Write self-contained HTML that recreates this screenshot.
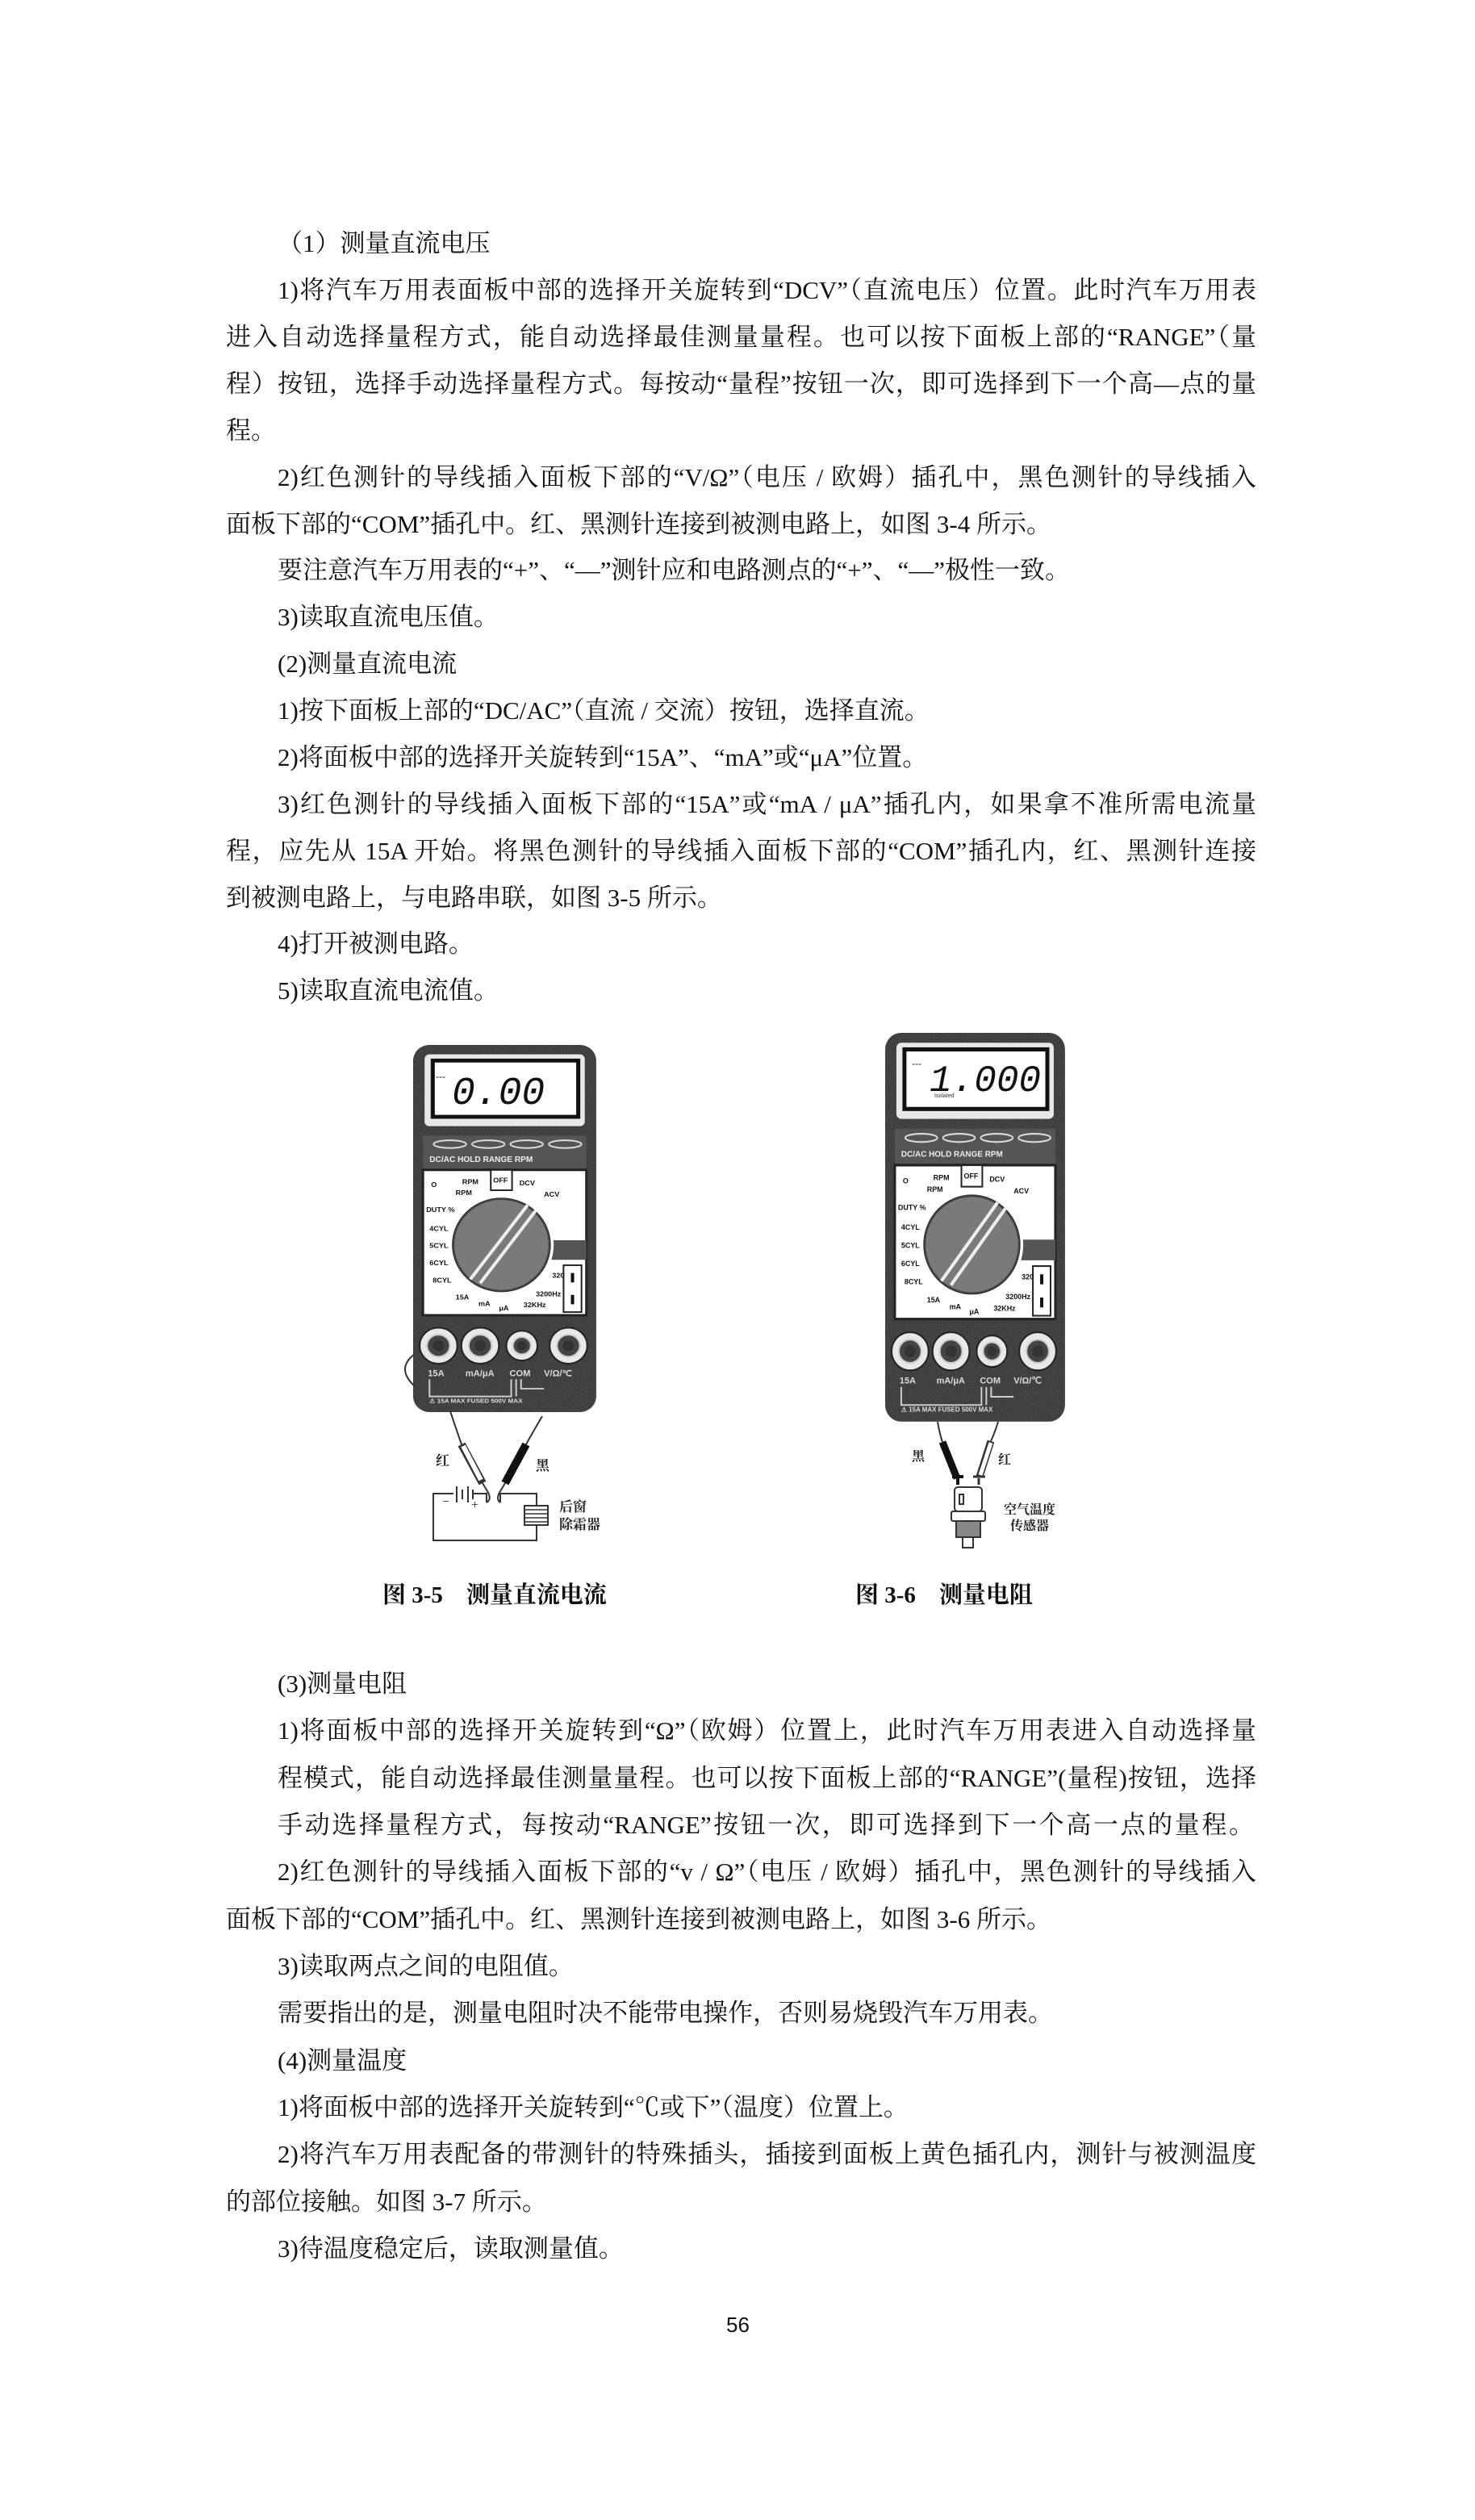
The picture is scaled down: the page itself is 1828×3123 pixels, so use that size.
<!DOCTYPE html>
<html><head><meta charset="utf-8"><style>
html,body{margin:0;padding:0;background:#fff;}
body{width:1828px;height:3123px;position:relative;overflow:hidden;font-family:"Liberation Serif","Noto Serif CJK SC",serif;color:#111;}
.l{position:absolute;font-size:31px;line-height:40px;white-space:nowrap;}
.f{text-align:justify;text-align-last:justify;white-space:normal;height:40px;overflow:hidden;}
.cap{position:absolute;font-size:29px;font-weight:bold;line-height:40px;white-space:nowrap;}
svg{position:absolute;left:0;top:0;}
</style></head><body>

<div class="l" style="left:344px;top:282px">（1）测量直流电压</div>
<div class="l f" style="left:344px;top:340px;width:1213px">1)将汽车万用表面板中部的选择开关旋转到“DCV”（直流电压）位置。此时汽车万用表</div>
<div class="l f" style="left:280px;top:398px;width:1277px">进入自动选择量程方式，能自动选择最佳测量量程。也可以按下面板上部的“RANGE”（量</div>
<div class="l f" style="left:280px;top:456px;width:1277px">程）按钮，选择手动选择量程方式。每按动“量程”按钮一次，即可选择到下一个高—点的量</div>
<div class="l" style="left:280px;top:514px">程。</div>
<div class="l f" style="left:344px;top:572px;width:1213px">2)红色测针的导线插入面板下部的“V/Ω”（电压 / 欧姆）插孔中，黑色测针的导线插入</div>
<div class="l" style="left:280px;top:630px">面板下部的“COM”插孔中。红、黑测针连接到被测电路上，如图 3-4 所示。</div>
<div class="l" style="left:344px;top:687px">要注意汽车万用表的“+”、“—”测针应和电路测点的“+”、“—”极性一致。</div>
<div class="l" style="left:344px;top:745px">3)读取直流电压值。</div>
<div class="l" style="left:344px;top:803px">(2)测量直流电流</div>
<div class="l" style="left:344px;top:861px">1)按下面板上部的“DC/AC”（直流 / 交流）按钮，选择直流。</div>
<div class="l" style="left:344px;top:919px">2)将面板中部的选择开关旋转到“15A”、“mA”或“μA”位置。</div>
<div class="l f" style="left:344px;top:977px;width:1213px">3)红色测针的导线插入面板下部的“15A”或“mA / μA”插孔内，如果拿不准所需电流量</div>
<div class="l f" style="left:280px;top:1035px;width:1277px">程，应先从 15A 开始。将黑色测针的导线插入面板下部的“COM”插孔内，红、黑测针连接</div>
<div class="l" style="left:280px;top:1093px">到被测电路上，与电路串联，如图 3-5 所示。</div>
<div class="l" style="left:344px;top:1150px">4)打开被测电路。</div>
<div class="l" style="left:344px;top:1208px">5)读取直流电流值。</div>

<svg width="1828" height="3123" viewBox="0 0 1828 3123">
<defs>
<filter id="nz"><feTurbulence type="fractalNoise" baseFrequency="0.9" numOctaves="2" seed="3"/><feColorMatrix values="0 0 0 0 0.2  0 0 0 0 0.2  0 0 0 0 0.2  0 0 0 -1.2 1.1"/><feComposite in2="SourceGraphic" operator="in"/></filter>
<g id="meter">
 <rect x="0" y="0" width="224" height="470" rx="20" fill="#2e2e2e"/>
 <rect x="0" y="0" width="224" height="470" rx="20" fill="#888" filter="url(#nz)" opacity="0.5"/>
 <rect x="14" y="12" width="196" height="92" rx="6" fill="#e8e8e8"/>
 <rect x="24" y="20" width="178" height="72" fill="#fff" stroke="#111" stroke-width="5"/>
 <rect x="12" y="116" width="200" height="42" fill="#555"/>
 <ellipse cx="45" cy="127" rx="20" ry="5" fill="none" stroke="#ddd" stroke-width="2"/>
 <ellipse cx="92" cy="127" rx="20" ry="5" fill="none" stroke="#ddd" stroke-width="2"/>
 <ellipse cx="139" cy="127" rx="20" ry="5" fill="none" stroke="#ddd" stroke-width="2"/>
 <ellipse cx="186" cy="127" rx="20" ry="5" fill="none" stroke="#ddd" stroke-width="2"/>
 <text x="20" y="150" font-family="Liberation Sans,sans-serif" font-size="10" font-weight="bold" fill="#eee">DC/AC  HOLD  RANGE  RPM</text>
 <rect x="12" y="160" width="200" height="186" fill="#fff" stroke="#222" stroke-width="3"/>
 <rect x="184" y="282" width="22" height="60" fill="#fff" stroke="#222" stroke-width="2"/>
 <rect x="193" y="292" width="4" height="12" fill="#111"/><rect x="193" y="320" width="4" height="12" fill="#111"/>
 <path d="M140 250 L212 250 L212 275 L170 275 Z" fill="#555"/>
 <circle cx="108" cy="256" r="64" fill="#fff"/>
 <circle cx="108" cy="256" r="59" fill="#7a7a7a" stroke="#333" stroke-width="3"/>
 <circle cx="108" cy="256" r="59" fill="#999" filter="url(#nz)" opacity="0.6"/>
 <path d="M70 300 L140 205 M82 305 L150 212" stroke="#eee" stroke-width="4"/>
 <g font-family="Liberation Sans,sans-serif" font-size="9" font-weight="bold" fill="#111">
  <text x="22" y="182">O</text><text x="60" y="178">RPM</text><text x="52" y="192">RPM</text>
  <rect x="95" y="160" width="26" height="26" fill="#fff" stroke="#222" stroke-width="2"/><text x="98" y="176">OFF</text>
  <text x="130" y="180">DCV</text><text x="160" y="194">ACV</text>
  <text x="16" y="214">DUTY %</text><text x="20" y="238">4CYL</text><text x="20" y="260">5CYL</text><text x="20" y="282">6CYL</text><text x="24" y="304">8CYL</text>
  <text x="52" y="326">15A</text><text x="80" y="334">mA</text><text x="105" y="340">μA</text><text x="135" y="336">32KHz</text><text x="150" y="322">3200Hz</text><text x="170" y="298">320</text>
 </g>
 <g fill="#e8e8e8" stroke="#222" stroke-width="2">
  <circle cx="31" cy="385" r="23"/><circle cx="82" cy="385" r="23"/><circle cx="133" cy="385" r="19"/><circle cx="190" cy="385" r="23"/>
 </g>
 <g fill="#444" stroke="#ccc" stroke-width="2">
  <circle cx="31" cy="385" r="14"/><circle cx="82" cy="385" r="14"/><circle cx="133" cy="385" r="11"/><circle cx="190" cy="385" r="14"/>
 </g>
 <g fill="#333"><circle cx="31" cy="385" r="7"/><circle cx="82" cy="385" r="7"/><circle cx="133" cy="385" r="6"/><circle cx="190" cy="385" r="7"/></g>
 <g font-family="Liberation Sans,sans-serif" font-size="11" font-weight="bold" fill="#ddd">
  <text x="18" y="424">15A</text><text x="64" y="424">mA/μA</text><text x="118" y="424">COM</text><text x="160" y="424">V/Ω/℃</text>
  <text x="20" y="458" font-size="8">⚠ 15A MAX FUSED  500V MAX</text>
 </g>
 <path d="M20 428 V450 H120 V428 M126 428 V450 M132 428 V440 H160" stroke="#ccc" stroke-width="2" fill="none"/>
</g>
</defs>

<!-- meter 1 -->
<g transform="translate(512,1295) scale(1.013,0.968)"><use href="#meter"/></g>
<text x="560" y="1368" font-family="Liberation Mono,monospace" font-size="48" font-style="italic" fill="#111">0.00</text>
<text x="540" y="1338" font-family="Liberation Sans,sans-serif" font-size="12" fill="#111">---</text>
<path d="M514 1678 Q490 1696 514 1718" stroke="#333" stroke-width="2" fill="none"/>
<!-- wires & probes meter1 -->
<path d="M558 1749 Q565 1770 572 1790" stroke="#333" stroke-width="2" fill="none"/>
<path d="M572 1790 L598 1838" stroke="#333" stroke-width="10" fill="none"/>
<path d="M574 1792 L596 1834" stroke="#fff" stroke-width="6" fill="none"/>
<path d="M598 1838 L604 1848 Q610 1858 603 1862" stroke="#333" stroke-width="2" fill="none"/>
<path d="M672 1755 Q662 1772 652 1790" stroke="#333" stroke-width="2" fill="none"/>
<path d="M652 1790 L626 1838" stroke="#111" stroke-width="10" fill="none"/>
<path d="M626 1838 L620 1848 Q614 1858 620 1862" stroke="#333" stroke-width="2" fill="none"/>
<g stroke="#333" stroke-width="2" fill="none">
 <path d="M603 1862 L603 1851 H537 V1909 H665 V1851 H620 L620 1862"/>
 <path d="M568 1843 V1860 M574 1846 V1857 M580 1843 V1860"/>
</g>
<rect x="562" y="1842" width="24" height="20" fill="#fff"/>
<path d="M566 1842 V1862 M573 1846 V1858 M580 1842 V1862 M586 1846 V1858" stroke="#333" stroke-width="2"/>
<text x="548" y="1866" font-size="16" fill="#222">−</text><text x="584" y="1870" font-size="16" fill="#222">+</text>
<rect x="650" y="1866" width="29" height="24" fill="#fff" stroke="#333" stroke-width="2"/>
<path d="M650 1871 H679 M650 1876 H679 M650 1881 H679 M650 1886 H679" stroke="#333" stroke-width="1.5"/>
<g font-family="Liberation Serif,'Noto Serif CJK SC',serif" font-size="17" fill="#222" font-weight="bold">
 <text x="540" y="1816">红</text><text x="664" y="1822">黑</text>
 <text x="693" y="1873">后窗</text><text x="693" y="1895">除霜器</text>
</g>

<!-- meter 2 -->
<g transform="translate(1097,1280) scale(0.995,1.025)"><use href="#meter"/></g>
<text x="1152" y="1352" font-family="Liberation Mono,monospace" font-size="46" font-style="italic" fill="#111">1.000</text>
<text x="1130" y="1322" font-family="Liberation Sans,sans-serif" font-size="12" fill="#111">---</text>
<text x="1158" y="1360" font-family="Liberation Sans,sans-serif" font-size="7" fill="#333">Isolated</text>
<path d="M1162 1762 Q1164 1775 1168 1787" stroke="#333" stroke-width="2" fill="none"/>
<path d="M1168 1787 L1186 1832" stroke="#111" stroke-width="9" fill="none"/>
<path d="M1180 1830 H1194 M1187 1832 V1840" stroke="#111" stroke-width="4"/>
<path d="M1237 1762 Q1233 1775 1228 1786" stroke="#333" stroke-width="2" fill="none"/>
<path d="M1228 1786 L1214 1830" stroke="#333" stroke-width="9" fill="none"/>
<path d="M1228 1788 L1215 1828" stroke="#fff" stroke-width="5" fill="none"/>
<path d="M1206 1830 H1221 M1213 1832 V1840" stroke="#333" stroke-width="3"/>
<g stroke="#333" stroke-width="2">
 <rect x="1183" y="1843" width="34" height="30" rx="4" fill="#fff"/>
 <rect x="1189" y="1852" width="5" height="12" fill="#fff"/>
 <rect x="1179" y="1873" width="42" height="12" rx="2" fill="#fff"/>
 <rect x="1185" y="1885" width="30" height="20" fill="#888"/>
 <rect x="1193" y="1905" width="13" height="13" fill="#fff"/>
</g>
<g font-family="Liberation Serif,'Noto Serif CJK SC',serif" font-size="16" fill="#222" font-weight="bold">
 <text x="1130" y="1810">黑</text><text x="1237" y="1814">红</text>
 <text x="1244" y="1876">空气温度</text><text x="1252" y="1896">传感器</text>
</g>
</svg>

<div class="cap" style="left:474px;top:1957px">图 3-5　测量直流电流</div>
<div class="cap" style="left:1060px;top:1957px">图 3-6　测量电阻</div>

<div class="l" style="left:344px;top:2067px">(3)测量电阻</div>
<div class="l f" style="left:344px;top:2125px;width:1213px">1)将面板中部的选择开关旋转到“Ω”（欧姆）位置上，此时汽车万用表进入自动选择量</div>
<div class="l f" style="left:344px;top:2184px;width:1213px">程模式，能自动选择最佳测量量程。也可以按下面板上部的“RANGE”(量程)按钮，选择</div>
<div class="l f" style="left:344px;top:2242px;width:1210px">手动选择量程方式，每按动“RANGE”按钮一次，即可选择到下一个高一点的量程。</div>
<div class="l f" style="left:344px;top:2300px;width:1213px">2)红色测针的导线插入面板下部的“v / Ω”（电压 / 欧姆）插孔中，黑色测针的导线插入</div>
<div class="l" style="left:280px;top:2359px">面板下部的“COM”插孔中。红、黑测针连接到被测电路上，如图 3-6 所示。</div>
<div class="l" style="left:344px;top:2417px">3)读取两点之间的电阻值。</div>
<div class="l" style="left:344px;top:2475px">需要指出的是，测量电阻时决不能带电操作，否则易烧毁汽车万用表。</div>
<div class="l" style="left:344px;top:2534px">(4)测量温度</div>
<div class="l" style="left:344px;top:2592px">1)将面板中部的选择开关旋转到“℃或下”（温度）位置上。</div>
<div class="l f" style="left:344px;top:2650px;width:1213px">2)将汽车万用表配备的带测针的特殊插头，插接到面板上黄色插孔内，测针与被测温度</div>
<div class="l" style="left:280px;top:2709px">的部位接触。如图 3-7 所示。</div>
<div class="l" style="left:344px;top:2767px">3)待温度稳定后，读取测量值。</div>

<div style="position:absolute;left:900px;top:2866px;font-family:'Liberation Sans',sans-serif;font-size:26px;line-height:30px;">56</div>
</body></html>
